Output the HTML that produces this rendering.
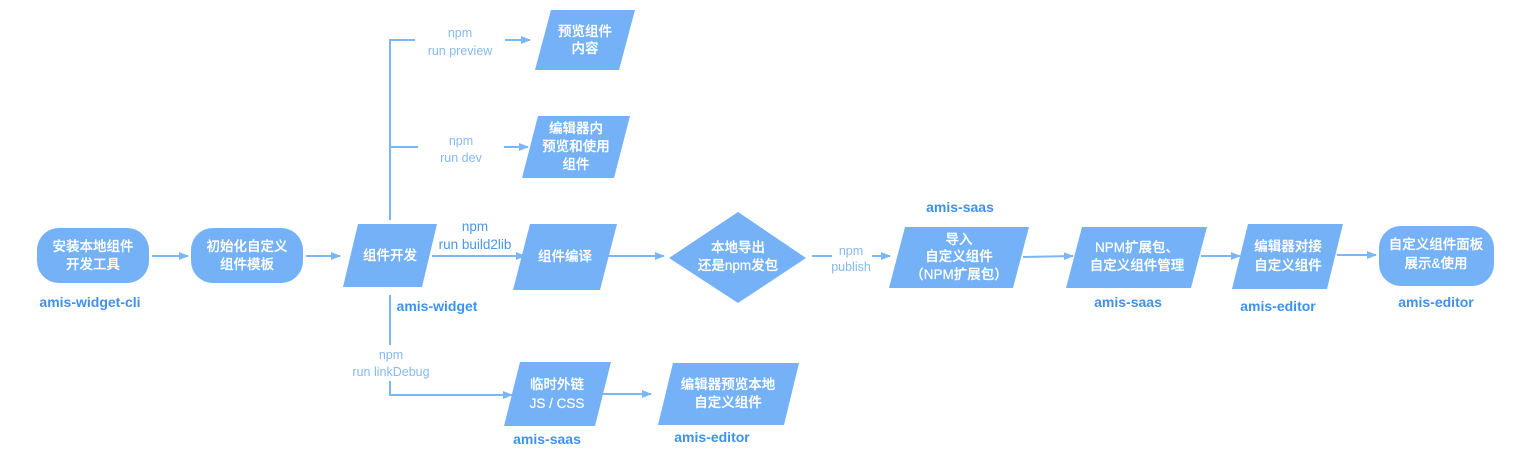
<!DOCTYPE html>
<html><head><meta charset="utf-8"><style>
html,body{margin:0;padding:0;background:#fff}
svg{display:block}
text{font-family:"Liberation Sans","Noto Sans CJK SC",sans-serif}
.w{fill:#fff;font-size:13.5px;text-anchor:middle;font-weight:500;stroke:#fff;stroke-width:0.2}
.l{fill:#3f92ec;font-size:14px;font-weight:bold;text-anchor:middle}
.c{fill:#86b9f2;font-size:12.5px;text-anchor:middle}
.c2{fill:#4a97ec;font-size:13.5px;text-anchor:middle}
.s{fill:#74b1f6}
.ln{stroke:#7db6f5;stroke-width:2;fill:none}
</style></head><body>
<svg width="1527" height="468" viewBox="0 0 1527 468">
<defs><marker id="a" markerWidth="10" markerHeight="10" refX="9" refY="5" orient="auto" markerUnits="userSpaceOnUse"><path d="M0,1 L10,5 L0,9 Z" fill="#7db6f5"/></marker></defs>

<line class="ln" x1="152" y1="256" x2="188" y2="256" marker-end="url(#a)"/>
<line class="ln" x1="306" y1="256" x2="340" y2="256" marker-end="url(#a)"/>
<polyline class="ln" points="390,220 390,40 530,40" marker-end="url(#a)"/>
<line class="ln" x1="390" y1="147" x2="528" y2="147" marker-end="url(#a)"/>
<line class="ln" x1="432" y1="256" x2="525" y2="256" marker-end="url(#a)"/>
<line class="ln" x1="608" y1="256" x2="664" y2="256" marker-end="url(#a)"/>
<line class="ln" x1="812" y1="256" x2="832" y2="256"/>
<line class="ln" x1="872" y1="256" x2="890" y2="256" marker-end="url(#a)"/>
<line class="ln" x1="1023" y1="257" x2="1073" y2="256" marker-end="url(#a)"/>
<line class="ln" x1="1201" y1="256" x2="1240" y2="256" marker-end="url(#a)"/>
<line class="ln" x1="1337" y1="255" x2="1376" y2="255" marker-end="url(#a)"/>
<polyline class="ln" points="390,295 390,395 512,395" marker-end="url(#a)"/>
<line class="ln" x1="601" y1="394" x2="651" y2="394" marker-end="url(#a)"/>

<rect x="415" y="20" width="90" height="38" fill="#fff"/>
<text class="c" x="460" y="37">npm</text><text class="c" x="460" y="55">run preview</text>
<rect x="418" y="130" width="86" height="36" fill="#fff"/>
<text class="c" x="461" y="145">npm</text><text class="c" x="461" y="162">run dev</text>
<text class="c2" x="475" y="231">npm</text><text class="c2" x="475" y="249">run build2lib</text>
<text class="c" x="851" y="255">npm</text><text class="c" x="851" y="271">publish</text>
<rect x="345" y="345" width="90" height="36" fill="#fff"/>
<text class="c" x="391" y="359">npm</text><text class="c" x="391" y="376">run linkDebug</text>

<rect class="s" x="37" y="228" width="112" height="55" rx="22"/>
<text class="w" x="93" y="251">安装本地组件</text><text class="w" x="93" y="269">开发工具</text>
<rect class="s" x="191" y="228" width="112" height="55" rx="22"/>
<text class="w" x="247" y="251">初始化自定义</text><text class="w" x="247" y="269">组件模板</text>
<polygon class="s" points="358,224 437,224 422,287 343,287"/>
<text class="w" x="390" y="260">组件开发</text>
<polygon class="s" points="551,10 635,10 619,70 535,70"/>
<text class="w" x="585" y="36">预览组件</text><text class="w" x="585" y="53">内容</text>
<polygon class="s" points="538,116 630,116 614,178 522,178"/>
<text class="w" x="576" y="133">编辑器内</text><text class="w" x="576" y="151">预览和使用</text><text class="w" x="576" y="169">组件</text>
<polygon class="s" points="530,224 617,224 600,290 513,290"/>
<text class="w" x="565" y="261">组件编译</text>
<polygon class="s" points="738,212 806,258 738,303 669,258"/>
<text class="w" x="738" y="252">本地导出</text><text class="w" x="738" y="270">还是npm发包</text>
<polygon class="s" points="905,227 1029,227 1013,288 889,288"/>
<text class="w" x="959" y="244">导入</text><text class="w" x="959" y="261">自定义组件</text><text class="w" x="959" y="279">（NPM扩展包）</text>
<polygon class="s" points="1082,227 1207,227 1191,288 1066,288"/>
<text class="w" x="1137" y="252">NPM扩展包、</text><text class="w" x="1137" y="270">自定义组件管理</text>
<polygon class="s" points="1248,224 1343,224 1327,289 1232,289"/>
<text class="w" x="1288" y="251">编辑器对接</text><text class="w" x="1288" y="270">自定义组件</text>
<rect class="s" x="1379" y="226" width="115" height="60" rx="22"/>
<text class="w" x="1436" y="249">自定义组件面板</text><text class="w" x="1436" y="268">展示&amp;使用</text>
<polygon class="s" points="520,362 611,362 595,426 504,426"/>
<text class="w" x="557" y="389">临时外链</text><text class="w" x="557" y="408">JS / CSS</text>
<polygon class="s" points="673,363 799,363 784,425 658,425"/>
<text class="w" x="728" y="389">编辑器预览本地</text><text class="w" x="728" y="407">自定义组件</text>

<text class="l" x="90" y="307">amis-widget-cli</text>
<text class="l" x="437" y="311">amis-widget</text>
<text class="l" x="960" y="212">amis-saas</text>
<text class="l" x="1128" y="307">amis-saas</text>
<text class="l" x="1278" y="311">amis-editor</text>
<text class="l" x="1436" y="307">amis-editor</text>
<text class="l" x="547" y="444">amis-saas</text>
<text class="l" x="712" y="442">amis-editor</text>
</svg>
</body></html>
